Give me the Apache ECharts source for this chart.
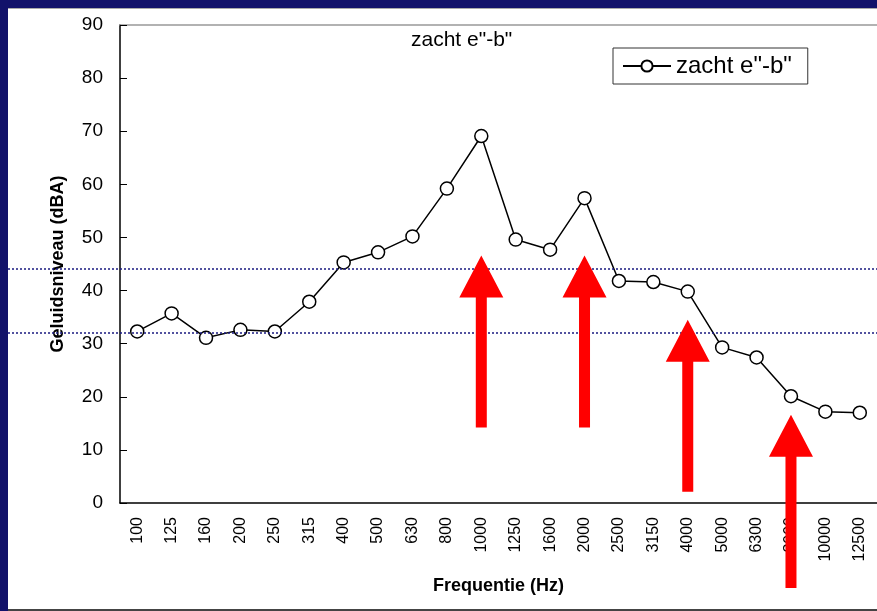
<!DOCTYPE html>
<html>
<head>
<meta charset="utf-8">
<script src="https://cdn.jsdelivr.net/npm/echarts@6/dist/echarts.min.js"></script>
<style>
body { margin: 0; }
.box { position: relative; width: 877px; height: 611px; background: #12126a; overflow: hidden; }
.box .chart { position: absolute; left: 8px; top: 8px; width: 869px; height: 601px; background: #fff; }
.box .topline { position: absolute; left: 8px; top: 8px; width: 869px; height: 1px; background: #aaa; }
.box .edge { position: absolute; left: 8px; top: 609px; width: 869px; height: 2px; background: #444; }
</style>
</head>
<body>
<div class="box">
  <div class="chart" id="chart"></div>
  <div class="topline"></div>
  <div class="edge"></div>
</div>
<script>
// frequentiebanden (Hz)
const freqs = ["100", "125", "160", "200", "250", "315", "400", "500", "630", "800",
  "1000", "1250", "1600", "2000", "2500", "3150", "4000", "5000", "6300", "8000",
  "10000", "12500"];
// geluidsniveau zacht e''-b'' (dBA)
const levels = [32.3, 35.7, 31.1, 32.6, 32.3, 37.9, 45.3, 47.2, 50.2, 59.2,
  69.1, 49.6, 47.7, 57.4, 41.8, 41.6, 39.8, 29.3, 27.4, 20.1,
  17.2, 17.0];
// gestippelde referentielijnen
const refLines = [44.1, 32.0];
// rode pijlen: frequentie, punt, staart
const arrowFreqs = ["1000", "2000", "4000", "8000"];
const arrowTips = [46.6, 46.6, 34.5, 16.6];
const arrowTails = [14.2, 14.2, 2.1, -16.0];

const seriesName = 'zacht e"-b"';
const font = "Arial, 'Liberation Sans', sans-serif";

const option = {
  animation: false,
  textStyle: { fontFamily: font },
  title: {
    text: seriesName,
    left: 403,
    top: 22,
    padding: 0,
    textStyle: { fontSize: 21, fontWeight: "normal", color: "#000", fontFamily: font },
  },
  legend: {
    left: 605,
    top: 40,
    padding: [6, 16, 6, 9],
    borderColor: "#333",
    borderWidth: 1,
    itemWidth: 48,
    itemHeight: 14,
    textStyle: { fontSize: 24, color: "#000", fontFamily: font },
    data: [seriesName],
  },
  grid: [
    { left: 112, right: 0, top: 17, bottom: 106 },
    { left: 0, right: 0, top: 17, bottom: 106 },
  ],
  xAxis: [
    {
      type: "category",
      gridIndex: 0,
      data: freqs,
      name: "Frequentie (Hz)",
      nameLocation: "middle",
      nameGap: 74,
      nameTextStyle: { fontSize: 18, fontWeight: "bold", color: "#000", fontFamily: font },
      axisLine: { lineStyle: { color: "#000", width: 1.5 } },
      axisTick: { inside: true, length: 5, lineStyle: { color: "#000" } },
      axisLabel: { rotate: 90, fontSize: 16, color: "#000", margin: 14, fontFamily: font },
    },
    {
      type: "value",
      gridIndex: 1,
      min: 0,
      max: 1,
      show: false,
    },
    {
      type: "category",
      gridIndex: 0,
      position: "top",
      data: freqs,
      axisLine: { lineStyle: { color: "#999", width: 1.5 } },
      axisTick: { show: false },
      axisLabel: { show: false },
    },
  ],
  yAxis: [
    {
      type: "value",
      gridIndex: 0,
      min: 0,
      max: 90,
      interval: 10,
      name: "Geluidsniveau (dBA)",
      nameLocation: "middle",
      nameGap: 53,
      nameTextStyle: { fontSize: 18, fontWeight: "bold", color: "#000", fontFamily: font },
      axisLine: { show: true, lineStyle: { color: "#000", width: 1.5 } },
      axisTick: { show: true, inside: true, length: 7, lineStyle: { color: "#000" } },
      axisLabel: { fontSize: 19, color: "#000", margin: 17, fontFamily: font },
      splitLine: { show: false },
    },
    {
      type: "value",
      gridIndex: 1,
      min: 0,
      max: 90,
      show: false,
    },
  ],
  series: [
    {
      name: "referentie",
      type: "line",
      xAxisIndex: 1,
      yAxisIndex: 1,
      data: [],
      z: 1,
      markLine: {
        silent: true,
        symbol: "none",
        label: { show: false },
        lineStyle: { type: [2, 2], color: "#1a1a80", width: 1.5 },
        data: refLines.map((v) => ({ yAxis: v })),
      },
    },
    {
      name: seriesName,
      type: "line",
      xAxisIndex: 0,
      yAxisIndex: 0,
      data: levels,
      z: 3,
      symbol: "circle",
      symbolSize: 13,
      lineStyle: { color: "#000", width: 1.5 },
      itemStyle: { color: "#fff", borderColor: "#000", borderWidth: 1.5 },
    },
    {
      name: "pijlen",
      type: "custom",
      xAxisIndex: 0,
      yAxisIndex: 0,
      z: 10,
      silent: true,
      data: arrowFreqs.map((f, i) => [f, arrowTips[i], arrowTails[i]]),
      renderItem: function (params, api) {
        const tip = api.coord([api.value(0), api.value(1)]);
        const tail = api.coord([api.value(0), api.value(2)]);
        const x = tip[0];
        const headW = 22;
        const headH = 42;
        const shaftW = 5.5;
        return {
          type: "polygon",
          shape: {
            points: [
              [x, tip[1]],
              [x + headW, tip[1] + headH],
              [x + shaftW, tip[1] + headH],
              [x + shaftW, tail[1]],
              [x - shaftW, tail[1]],
              [x - shaftW, tip[1] + headH],
              [x - headW, tip[1] + headH],
            ],
          },
          style: { fill: "#ff0000" },
        };
      },
    },
  ],
};

const mycharts = echarts.init(document.getElementById("chart"));
mycharts.setOption(option);
</script>
</body>
</html>
